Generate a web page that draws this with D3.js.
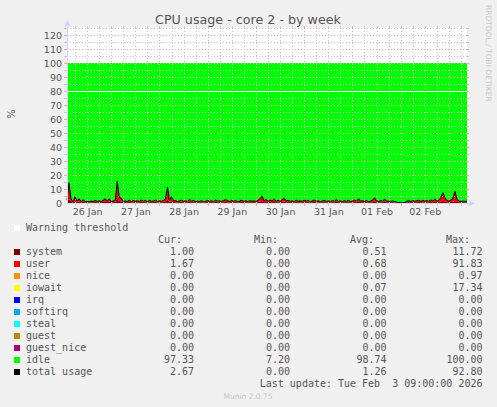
<!DOCTYPE html>
<html>
<head>
<meta charset="utf-8">
<title>CPU usage - core 2 - by week</title>
<script src="https://cdn.jsdelivr.net/npm/d3@7"></script>
<style>
  body { margin: 0; background: #f0f0f0; }
  svg text { font-family: "DejaVu Sans", sans-serif; }
  .mono { font-family: "DejaVu Sans Mono", monospace !important; font-size: 10px; fill: #555; white-space: pre; }
</style>
</head>
<body>
<script>
// hourly averages, last sample at the "last update" time
const lastUpdate = Date.UTC(2026, 1, 3, 9, 0, 0);

const systemVals = [
  0.8, 3.0, 1.0, 0.4, 1.3, 0.6, 1.0, 0.4, 0.9, 0.5,
  0.4, 0.4, 0.6, 0.5, 0.7, 0.5, 0.6, 0.5, 0.7, 0.8,
  0.7, 0.9, 0.5, 0.6, 0.7, 3.0, 1.2, 1.1, 0.5, 0.6,
  0.5, 0.7, 0.4, 0.6, 0.5, 0.6, 0.5, 0.7, 0.5, 0.6,
  0.4, 0.6, 0.5, 0.5, 0.7, 0.4, 0.6, 0.5, 0.6, 1.0,
  2.5, 0.8, 1.3, 0.7, 0.6, 0.5, 0.6, 0.7, 0.5, 0.6,
  0.5, 0.8, 0.5, 0.6, 0.4, 0.5, 0.5, 0.6, 0.4, 0.5,
  0.7, 0.5, 0.6, 0.4, 0.7, 0.5, 0.6, 0.5, 0.6, 0.8,
  0.6, 0.5, 0.7, 0.5, 0.6, 0.4, 0.5, 0.7, 0.5, 0.6,
  0.4, 0.6, 0.5, 0.6, 0.5, 0.6, 0.9, 1.4, 0.6, 0.8,
  0.5, 0.7, 0.5, 0.8, 0.5, 0.6, 0.5, 0.7, 1.0, 0.6,
  0.6, 0.5, 0.6, 0.4, 0.7, 0.5, 0.6, 0.5, 0.7, 0.5,
  0.6, 0.4, 0.5, 0.7, 0.5, 0.6, 0.4, 0.5, 0.6, 0.5,
  0.6, 0.4, 0.6, 0.5, 0.8, 0.5, 0.6, 0.4, 0.6, 0.5,
  0.6, 0.5, 0.5, 0.7, 0.5, 0.9, 0.5, 0.6, 0.5, 0.6,
  0.4, 0.5, 0.6, 1.0, 0.6, 0.5, 0.6, 0.5, 0.8, 0.5,
  0.5, 0.4, 0.6, 0.4, 0.3, 0.1, 0.1, 0.1, 0.1, 0.5,
  0.6, 0.5, 0.6, 0.5, 0.6, 0.7, 0.5, 0.6, 0.5, 0.6,
  0.5, 0.7, 0.5, 0.8, 0.5, 0.6, 1.0, 1.4, 1.0, 0.6,
  0.5, 0.7, 0.9, 1.4, 0.8, 0.5, 0.5, 0.5, 0.5, 0.5
];

const userVals = [
  1.2, 11.5, 1.8, 0.6, 3.2, 0.8, 2.0, 0.5, 1.6, 0.5,
  0.6, 0.4, 0.9, 0.5, 1.1, 0.7, 0.9, 0.5, 1.3, 2.2,
  0.8, 2.1, 0.5, 0.9, 1.3, 12.5, 2.8, 2.4, 0.5, 0.9,
  0.6, 1.4, 0.5, 1.2, 0.7, 1.0, 0.6, 1.6, 0.8, 1.1,
  0.5, 1.3, 0.7, 0.9, 1.5, 0.6, 1.0, 0.7, 1.2, 2.0,
  9.0, 1.2, 3.2, 0.8, 1.1, 0.6, 0.9, 1.5, 0.7, 1.0,
  0.6, 1.9, 0.8, 1.2, 0.5, 0.9, 0.6, 1.1, 0.5, 0.8,
  1.3, 0.6, 1.0, 0.5, 1.4, 0.7, 1.0, 0.6, 1.2, 1.6,
  1.0, 0.6, 1.3, 0.7, 1.1, 0.5, 0.9, 1.4, 0.6, 1.0,
  0.5, 1.2, 0.7, 1.0, 0.6, 1.3, 2.2, 3.6, 1.0, 1.8,
  0.7, 1.5, 0.9, 2.0, 0.8, 1.4, 0.7, 1.6, 2.5, 0.9,
  1.3, 0.6, 1.1, 0.5, 1.5, 0.7, 1.0, 0.6, 1.4, 0.8,
  1.2, 0.5, 1.0, 1.6, 0.6, 1.1, 0.5, 0.9, 1.3, 0.6,
  1.0, 0.5, 1.2, 0.7, 1.8, 0.6, 1.0, 0.5, 1.1, 0.7,
  1.3, 0.6, 0.9, 1.5, 0.7, 2.2, 0.8, 1.0, 0.6, 1.2,
  0.5, 0.9, 1.4, 2.8, 1.0, 0.6, 1.1, 0.7, 2.0, 0.8,
  0.9, 0.5, 1.0, 0.6, 0.4, 0.1, 0.1, 0.1, 0.2, 0.8,
  1.0, 0.6, 1.2, 0.7, 1.0, 1.5, 0.6, 1.3, 0.8, 1.1,
  0.7, 1.6, 0.9, 2.0, 0.8, 1.4, 3.0, 6.0, 2.8, 1.2,
  0.8, 1.5, 2.4, 7.0, 2.0, 0.9, 0.7, 0.8, 0.7, 0.8
];

const seriesNames = ["system", "user", "nice", "iowait", "irq", "softirq", "steal", "guest", "guest_nice", "idle", "total usage"];
const curVals = [1.00, 1.67, 0.00, 0.00, 0.00, 0.00, 0.00, 0.00, 0.00, 97.33, 2.67];
const minVals = [0.00, 0.00, 0.00, 0.00, 0.00, 0.00, 0.00, 0.00, 0.00, 7.20, 0.00];
const avgVals = [0.51, 0.68, 0.00, 0.07, 0.00, 0.00, 0.00, 0.00, 0.00, 98.74, 1.26];
const maxVals = [11.72, 91.83, 0.97, 17.34, 0.00, 0.00, 0.00, 0.00, 0.00, 100.00, 92.80];
const yTicks = [0, 10, 20, 30, 40, 50, 60, 70, 80, 90, 100, 110, 120];
const warningLevel = 80;

const colors = {
  "system": "#7e0000", "user": "#ff0000", "nice": "#ff9000", "iowait": "#ffff00",
  "irq": "#0000ff", "softirq": "#00aaff", "steal": "#00ffff", "guest": "#b09000",
  "guest_nice": "#aa0077", "idle": "#00ff00", "total usage": "#000000"
};

// plot area
const W = 497, H = 407;
const pLeft = 67, pRight = 467, pTop = 28, pBottom = 203;

const svg = d3.select("body").append("svg")
  .attr("width", W).attr("height", H);

svg.append("rect").attr("width", W).attr("height", H).attr("fill", "#f0f0f0");

const n = systemVals.length;
const rows = systemVals.map(function (s, i) {
  const u = userVals[i];
  return { t: new Date(lastUpdate - (n - 1 - i) * 3600e3), system: s, user: u, idle: 100 - s - u };
});

const x = d3.scaleUtc().domain([rows[0].t, rows[n - 1].t]).range([pLeft, pRight]);
const y = d3.scaleLinear().domain([0, 125]).range([pBottom, pTop]);

// canvas
svg.append("rect")
  .attr("x", pLeft).attr("y", pTop)
  .attr("width", pRight - pLeft).attr("height", pBottom - pTop)
  .attr("fill", "#ffffff");

// stacked areas
const stack = d3.stack().keys(["system", "user", "idle"]);
const layers = stack(rows);
const area = d3.area()
  .x(function (d) { return x(d.data.t); })
  .y0(function (d) { return y(d[0]); })
  .y1(function (d) { return y(d[1]); });

svg.append("g").selectAll("path")
  .data(layers.slice().reverse())
  .enter().append("path")
  .attr("d", area)
  .attr("fill", function (d) { return colors[d.key]; });

// grid (drawn over the areas, like rrdtool)
const grid = svg.append("g").attr("shape-rendering", "crispEdges");
const minorH = d3.range(5, 126, 5).filter(function (v) { return v % 10 !== 0; });
const majorH = d3.range(10, 121, 10);
const dom = x.domain();
const minorV = d3.utcHour.every(6).range(dom[0], dom[1]).filter(function (d) { return d.getUTCHours() !== 0; });
const majorV = d3.utcDay.range(dom[0], dom[1]);

function hLines(vals, col) {
  grid.selectAll(null).data(vals).enter().append("line")
    .attr("x1", pLeft).attr("x2", pRight)
    .attr("y1", function (d) { return Math.round(y(d)) + 0.5; })
    .attr("y2", function (d) { return Math.round(y(d)) + 0.5; })
    .attr("stroke", col)
    .attr("stroke-dasharray", "1,2");
  // little solid ticks outside the canvas
  grid.selectAll(null).data(vals).enter().append("path")
    .attr("d", function (d) {
      const yy = Math.round(y(d)) + 0.5;
      return "M" + (pLeft - 3) + "," + yy + "H" + pLeft + "M" + pRight + "," + yy + "H" + (pRight + 2);
    })
    .attr("stroke", col);
}
function vLines(vals, col) {
  grid.selectAll(null).data(vals).enter().append("line")
    .attr("x1", function (d) { return Math.round(x(d)) + 0.5; })
    .attr("x2", function (d) { return Math.round(x(d)) + 0.5; })
    .attr("y1", pTop).attr("y2", pBottom)
    .attr("stroke", col)
    .attr("stroke-dasharray", "1,2");
  grid.selectAll(null).data(vals).enter().append("path")
    .attr("d", function (d) {
      const xx = Math.round(x(d)) + 0.5;
      return "M" + xx + "," + pBottom + "V" + (pBottom + 3) + "M" + xx + "," + (pTop - 2) + "V" + pTop;
    })
    .attr("stroke", col);
}
hLines(minorH, "#c8c8c8");
vLines(minorV, "#c8c8c8");
hLines(majorH, "#f0a8a8");
vLines(majorV, "#f0a8a8");

// warning threshold
svg.append("line")
  .attr("x1", pLeft).attr("x2", pRight)
  .attr("y1", Math.round(y(warningLevel)) + 0.5).attr("y2", Math.round(y(warningLevel)) + 0.5)
  .attr("stroke", "#ffffff").attr("shape-rendering", "crispEdges");

// total usage line
const line = d3.line()
  .x(function (d) { return x(d.t); })
  .y(function (d) { return y(d.system + d.user); });
svg.append("path")
  .datum(rows)
  .attr("d", line)
  .attr("fill", "none")
  .attr("stroke", colors["total usage"])
  .attr("stroke-width", 1);

// axes lines and arrows
const axisCol = "#cfd6f8";
svg.append("path")
  .attr("d", "M" + (pLeft + 0.5) + "," + pBottom + "V24")
  .attr("stroke", axisCol).attr("shape-rendering", "crispEdges");
svg.append("path")
  .attr("d", "M" + pLeft + "," + (pBottom + 0.5) + "H470")
  .attr("stroke", axisCol).attr("shape-rendering", "crispEdges");
svg.append("path")
  .attr("d", "M64.5,26L67.5,20L70.5,26Z").attr("fill", axisCol);
svg.append("path")
  .attr("d", "M469,200.5L475,203.5L469,206.5Z").attr("fill", axisCol);

// y tick labels
const yAxis = svg.append("g")
  .attr("transform", "translate(" + (pLeft - 5) + ",0)")
  .call(d3.axisLeft(y).tickValues(yTicks).tickSize(0).tickPadding(0));
yAxis.select(".domain").remove();
yAxis.selectAll("text")
  .attr("fill", "#555").style("font-size", "9.5px").style("font-family", "DejaVu Sans, sans-serif");

// x tick labels at noon of each day
const noons = d3.utcDay.range(d3.utcDay.floor(dom[0]), dom[1])
  .map(function (d) { return d3.utcHour.offset(d, 12); })
  .filter(function (d) { return d >= dom[0] && d <= dom[1]; });
const xAxis = svg.append("g")
  .attr("transform", "translate(0," + (pBottom + 5) + ")")
  .call(d3.axisBottom(x).tickValues(noons).tickFormat(d3.utcFormat("%d %b")).tickSize(0).tickPadding(0));
xAxis.select(".domain").remove();
xAxis.selectAll("text")
  .attr("fill", "#555").attr("dy", "0.71em").style("font-size", "9.5px").style("font-family", "DejaVu Sans, sans-serif");

// title and side texts
svg.append("text")
  .attr("x", 248).attr("y", 24)
  .attr("text-anchor", "middle")
  .attr("fill", "#555")
  .style("font-size", "12.7px")
  .text("CPU usage - core 2 - by week");

svg.append("text")
  .attr("transform", "translate(15,114) rotate(-90)")
  .attr("text-anchor", "middle")
  .attr("fill", "#555")
  .style("font-size", "10px")
  .text("%");

svg.append("text")
  .attr("transform", "translate(485.5,5) rotate(90)")
  .attr("fill", "#c8c8c8")
  .style("font-size", "7.5px")
  .text("RRDTOOL / TOBI OETIKER");

// legend
const fmt = d3.format(".2f");
const legend = svg.append("g");
legend.append("rect").attr("x", 14).attr("y", 225).attr("width", 6).attr("height", 6).attr("fill", "#ffffff");
legend.append("text").attr("class", "mono").attr("x", 26).attr("y", 231).text("Warning threshold");

const heads = [["Cur:", 182], ["Min:", 278], ["Avg:", 374], ["Max:", 470]];
legend.selectAll(null).data(heads).enter().append("text")
  .attr("class", "mono").attr("text-anchor", "end")
  .attr("x", function (d) { return d[1]; }).attr("y", 243)
  .text(function (d) { return d[0]; });

const cols = [[curVals, 194], [minVals, 290], [avgVals, 386.5], [maxVals, 482.5]];
seriesNames.forEach(function (name, i) {
  const by = 255 + i * 12;
  legend.append("rect").attr("x", 14).attr("y", by - 6).attr("width", 6).attr("height", 6).attr("fill", colors[name]);
  legend.append("text").attr("class", "mono").attr("x", 26).attr("y", by).text(name);
  cols.forEach(function (c) {
    legend.append("text").attr("class", "mono").attr("text-anchor", "end")
      .attr("x", c[1]).attr("y", by).text(fmt(c[0][i]));
  });
});

legend.append("text").attr("class", "mono").attr("text-anchor", "end")
  .attr("xml:space", "preserve")
  .attr("x", 482.5).attr("y", 387)
  .text("Last update: Tue Feb  3 09:00:00 2026");

svg.append("text")
  .attr("x", 248).attr("y", 398.5)
  .attr("text-anchor", "middle")
  .attr("fill", "#c8c8c8")
  .style("font-size", "7.5px")
  .text("Munin 2.0.75");
</script>
</body>
</html>
